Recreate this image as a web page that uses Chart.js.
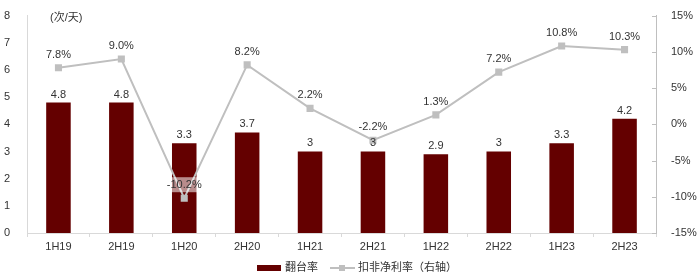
<!DOCTYPE html>
<html>
<head>
<meta charset="utf-8">
<script src="https://cdn.jsdelivr.net/npm/chart.js@4/dist/chart.umd.min.js"></script>
<style>
html,body{margin:0;padding:0;background:#fff;}
#wrap{width:700px;height:279px;position:relative;}
</style>
</head>
<body>
<div id="wrap"><canvas id="c" width="700" height="279"></canvas></div>
<script>
const categories = ['1H19','2H19','1H20','2H20','1H21','2H21','1H22','2H22','1H23','2H23'];
const turnoverRate = [4.8, 4.8, 3.3, 3.7, 3, 3, 2.9, 3, 3.3, 4.2];
const netMargin = [7.8, 9.0, -10.2, 8.2, 2.2, -2.2, 1.3, 7.2, 10.8, 10.3];
const leftTicks = [0,1,2,3,4,5,6,7,8];
const rightTicks = [-15,-10,-5,0,5,10,15];
const seriesNames = ['翻台率', '扣非净利率（右轴）'];
const unitLabel = '(次/天)';

const BAR_COLOR = '#640000';
const LINE_COLOR = '#BFBFBF';
const FONT = '"Liberation Sans", Arial, "Noto Sans CJK SC", sans-serif';
const TEXT = '#333333';

const labelPlugin = {
  id: 'labels',
  afterDatasetsDraw(chart) {
    const ctx = chart.ctx;
    ctx.save();
    ctx.font = '11px ' + FONT;
    ctx.textAlign = 'center';
    ctx.textBaseline = 'alphabetic';
    // bar labels
    const barMeta = chart.getDatasetMeta(0);
    barMeta.data.forEach((el, i) => {
      ctx.fillStyle = TEXT;
      ctx.fillText(String(turnoverRate[i]), el.x, el.y - 5);
    });
    // line labels
    const lineMeta = chart.getDatasetMeta(1);
    lineMeta.data.forEach((el, i) => {
      const txt = netMargin[i].toFixed(1) + '%';
      const y = el.y - 10;
      if (netMargin[i] < -5) {
        const w = ctx.measureText(txt).width;
        ctx.fillStyle = 'rgba(255,255,255,0.55)';
        ctx.fillRect(el.x - w / 2 - 3, y - 11, w + 6, 15);
      }
      ctx.fillStyle = TEXT;
      ctx.fillText(txt, el.x, y);
    });
    // unit label
    ctx.textAlign = 'left';
    ctx.fillStyle = TEXT;
    ctx.fillText(unitLabel, 50, 21);
    // legend
    const ly = 268;
    ctx.fillStyle = BAR_COLOR;
    ctx.fillRect(257, ly - 3, 24, 6);
    ctx.fillStyle = TEXT;
    ctx.textBaseline = 'middle';
    ctx.fillText(seriesNames[0], 285, ly);
    ctx.strokeStyle = LINE_COLOR;
    ctx.lineWidth = 2;
    ctx.beginPath();
    ctx.moveTo(330, ly);
    ctx.lineTo(355, ly);
    ctx.stroke();
    ctx.fillStyle = LINE_COLOR;
    ctx.fillRect(339, ly - 3, 6, 6);
    ctx.fillStyle = TEXT;
    ctx.fillText(seriesNames[1], 358, ly);
    // right axis inner ticks
    const ry = chart.scales.y1;
    ctx.strokeStyle = '#BFBFBF';
    ctx.lineWidth = 1;
    rightTicks.forEach(v => {
      const yy = Math.round(ry.getPixelForValue(v)) + 0.5;
      ctx.beginPath();
      ctx.moveTo(ry.left - 4, yy);
      ctx.lineTo(ry.left, yy);
      ctx.stroke();
    });
    ctx.restore();
  }
};

new Chart(document.getElementById('c'), {
  data: {
    labels: categories,
    datasets: [
      {
        type: 'bar',
        label: seriesNames[0],
        data: turnoverRate,
        backgroundColor: BAR_COLOR,
        borderColor: '#c9a0a0',
        borderWidth: 0,
        categoryPercentage: 1,
        barPercentage: 0.39,
        yAxisID: 'y',
        order: 2
      },
      {
        type: 'line',
        label: seriesNames[1],
        data: netMargin,
        borderColor: LINE_COLOR,
        backgroundColor: LINE_COLOR,
        borderWidth: 2,
        pointStyle: 'rect',
        pointRadius: 5,
        pointBorderWidth: 0,
        pointBackgroundColor: LINE_COLOR,
        tension: 0,
        yAxisID: 'y1',
        order: 1
      }
    ]
  },
  options: {
    responsive: false,
    animation: false,
    devicePixelRatio: 1,
    layout: { padding: { top: 14, bottom: 0, left: 0, right: 0 } },
    plugins: { legend: { display: false }, tooltip: { enabled: false } },
    scales: {
      x: {
        offset: true,
        grid: { display: true, drawOnChartArea: false, drawTicks: true, tickLength: 4, color: '#D9D9D9', offset: true },
        border: { display: true, color: '#D9D9D9', width: 1 },
        ticks: { color: TEXT, font: { family: FONT, size: 11 }, padding: 3, maxRotation: 0, autoSkip: false },
        afterFit(s) { s.height = 46; }
      },
      y: {
        position: 'left',
        min: 0, max: 8,
        afterBuildTicks(s) { s.ticks = leftTicks.map(v => ({ value: v })); },
        grid: { display: false },
        border: { display: true, color: '#D9D9D9', width: 1 },
        ticks: { color: TEXT, font: { family: FONT, size: 11 }, padding: 9 },
        afterFit(s) { s.width = 27; }
      },
      y1: {
        position: 'right',
        min: -15, max: 15,
        afterBuildTicks(s) { s.ticks = rightTicks.map(v => ({ value: v })); },
        grid: { display: false },
        border: { display: true, color: '#BFBFBF', width: 1 },
        ticks: { color: TEXT, font: { family: FONT, size: 11 }, padding: 7, callback: v => v + '%' },
        afterFit(s) { s.width = 44; }
      }
    }
  },
  plugins: [labelPlugin]
});
</script>
</body>
</html>
